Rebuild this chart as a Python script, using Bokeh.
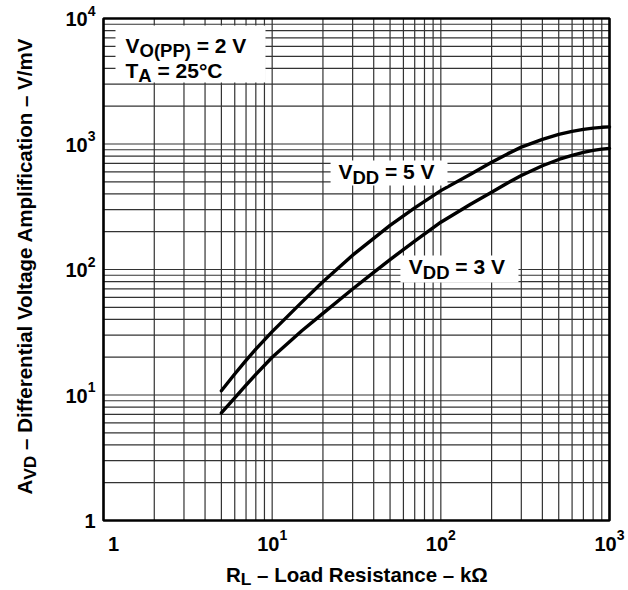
import math
from bokeh.plotting import figure
from bokeh.models import Range1d, Label, BoxAnnotation
from bokeh.embed import file_html
from bokeh.resources import INLINE

# ---- data ----
rl_5v = [5, 6, 7, 8, 10, 15, 20, 30, 40, 50, 70, 100, 150, 200, 250, 300, 400, 500, 600, 700, 800, 900, 1000]
avd_5v = [10.8, 14.7, 18.9, 23.2, 32, 55, 80, 130, 177, 225, 310, 425, 575, 716, 838, 944,
          1090, 1192, 1261, 1309, 1339, 1358, 1370]
rl_3v = [5, 6, 7, 8, 10, 15, 20, 30, 40, 50, 70, 100, 150, 200, 250, 300, 400, 500, 600, 700, 800, 900, 1000]
avd_3v = [7.2, 9.5, 12.0, 14.6, 20, 32.5, 44.7, 70, 95, 120, 168, 238, 331, 413, 492, 561,
          671, 753, 813, 857, 889, 910, 923]

x_ticks = [1, 10, 100, 1000]
x_tick_base = ["1", "10", "10", "10"]
x_tick_exp = ["", "1", "2", "3"]
y_ticks = [1, 10, 100, 1000, 10000]
y_tick_base = ["1", "10", "10", "10", "10"]
y_tick_exp = ["", "1", "2", "3", "4"]
minor_mult = [1, 2, 3, 4, 5, 6, 7, 8, 9]

FONT = "Liberation Sans"
W_PX, H_PX = 628, 590
# plot-frame placement inside the canvas (pixels)
FL, FR, FT, FB = 103, 609, 18, 520
TEXT_DY = 7  # compensates the svg text baseline placement

xd = (FR - FL) / math.log10(x_ticks[-1] / x_ticks[0])
yd = (FB - FT) / math.log10(y_ticks[-1] / y_ticks[0])
x_range = Range1d(x_ticks[0] * 10 ** (-FL / xd), x_ticks[0] * 10 ** ((W_PX - FL) / xd))
y_range = Range1d(y_ticks[0] * 10 ** (-(H_PX - FB) / yd), y_ticks[0] * 10 ** (FB / yd))

W = {' ': 278, '(': 333, ')': 333, '–': 556, '=': 584, '/': 278, '°': 400,
     'A': 722, 'C': 722, 'D': 722, 'L': 611, 'O': 778, 'P': 667, 'R': 722,
     'T': 611, 'V': 667, 'a': 556, 'c': 556, 'd': 611, 'e': 556, 'f': 333,
     'g': 611, 'i': 278, 'k': 556, 'l': 278, 'm': 889, 'n': 611, 'o': 611,
     'p': 611, 'r': 389, 's': 556, 't': 333, 'Ω': 768}


def tw(s, size):
    return sum(W.get(ch, 556) for ch in s) * size / 1000.0


def rich(p, x, y, parts, size, x_off=0.0, y_off=0.0, align="left", vertical=False,
         sub_scale=0.88, sub_shift=0.25, sup_scale=0.7, sup_shift=0.42):
    specs = []
    for text, kind in parts:
        if kind == "sub":
            s, sh = size * sub_scale, -sub_shift * size
        elif kind == "sup":
            s, sh = size * sup_scale, sup_shift * size
        else:
            s, sh = size, 0.0
        specs.append((text, s, sh))
    total = sum(tw(t, s) for t, s, _ in specs)
    start = {"center": -total / 2, "right": -total}.get(align, 0.0)
    cum = start
    for text, s, sh in specs:
        lead = len(text) - len(text.lstrip(" "))
        cum += tw(" " * lead, s)
        body = text.strip(" ")
        if vertical:
            xo, yo, ang = x_off - sh - TEXT_DY, y_off + cum, math.pi / 2
        else:
            xo, yo, ang = x_off + cum, y_off + sh + TEXT_DY, 0.0
        p.add_layout(Label(x=x, y=y, x_offset=xo, y_offset=yo, text=body, angle=ang,
                           text_font=FONT, text_font_style="bold",
                           text_font_size=f"{s:.1f}px", text_color="black",
                           text_align="left", text_baseline="alphabetic"))
        cum += tw(text.lstrip(" "), s)


p = figure(width=W_PX, height=H_PX, x_axis_type="log", y_axis_type="log",
           x_range=x_range, y_range=y_range,
           output_backend="svg", toolbar_location=None,
           min_border=0, min_border_left=0, min_border_right=0,
           min_border_top=0, min_border_bottom=0)
p.xaxis.visible = False
p.yaxis.visible = False
p.xgrid.visible = False
p.ygrid.visible = False
p.outline_line_color = None
p.background_fill_color = "white"
p.border_fill_color = "white"

# log grid (decade lines and 2..9 lines) from the tick values
xs_grid = [m * d for d in x_ticks[:-1] for m in minor_mult] + [x_ticks[-1]]
ys_grid = [m * d for d in y_ticks[:-1] for m in minor_mult] + [y_ticks[-1]]
p.segment(x0=xs_grid, x1=xs_grid, y0=[y_ticks[0]] * len(xs_grid), y1=[y_ticks[-1]] * len(xs_grid),
          line_color="#333333", line_width=1.2)
p.segment(x0=[x_ticks[0]] * len(ys_grid), x1=[x_ticks[-1]] * len(ys_grid), y0=ys_grid, y1=ys_grid,
          line_color="#333333", line_width=1.2)

# white label boxes
for l, r, b, t in [(1.178, 9.13, 3090, 8790),
                   (22.2, 109.5, 467, 739),
                   (57.6, 288.6, 78.8, 129.4)]:
    p.add_layout(BoxAnnotation(left=l, right=r, bottom=b, top=t, fill_color="white",
                               fill_alpha=1.0, line_color=None, level="glyph"))

p.line(rl_5v, avd_5v, line_width=3.4, color="black", line_join="round", line_cap="round")
p.line(rl_3v, avd_3v, line_width=3.4, color="black", line_join="round", line_cap="round")

# plot frame
p.quad(left=[x_ticks[0]], right=[x_ticks[-1]], bottom=[y_ticks[0]], top=[y_ticks[-1]],
       fill_color=None, line_color="black", line_width=2.6)

IN = 21
rich(p, 1.35, 5358, [("V", "n"), ("O(PP)", "sub"), (" = 2 V", "n")], IN)
rich(p, 1.35, 3388, [("T", "n"), ("A", "sub"), (" = 25°C", "n")], IN)
rich(p, 24.7, 528, [("V", "n"), ("DD", "sub"), (" = 5 V", "n")], IN)
rich(p, 64.6, 92.4, [("V", "n"), ("DD", "sub"), (" = 3 V", "n")], IN)

# tick labels
TK = 20
for xv, b, e in zip(x_ticks, x_tick_base, x_tick_exp):
    parts = [(b, "n")] + ([(e, "sup")] if e else [])
    xo = 10 if not e else 0
    rich(p, xv, y_ticks[0], parts, TK, x_off=xo, y_off=-30, align="center")
for yv, b, e in zip(y_ticks, y_tick_base, y_tick_exp):
    parts = [(b, "n")] + ([(e, "sup")] if e else [])
    rich(p, x_ticks[0], yv, parts, TK, x_off=-8, y_off=-7.5, align="right")

# axis titles
TT = 20.5
rich(p, 10 ** 1.5, y_ticks[0], [("R", "n"), ("L", "sub"), (" – Load Resistance – kΩ", "n")], TT,
     y_off=-61.3, align="center", sub_scale=0.85, sub_shift=0.2)
rich(p, x_ticks[0], 100, [("A", "n"), ("VD", "sub"),
                          (" – Differential Voltage Amplification – V/mV", "n")], TT,
     x_off=-72, y_off=4, align="center", vertical=True, sub_scale=0.85)

open("out.html", "w").write(file_html(p, INLINE))
